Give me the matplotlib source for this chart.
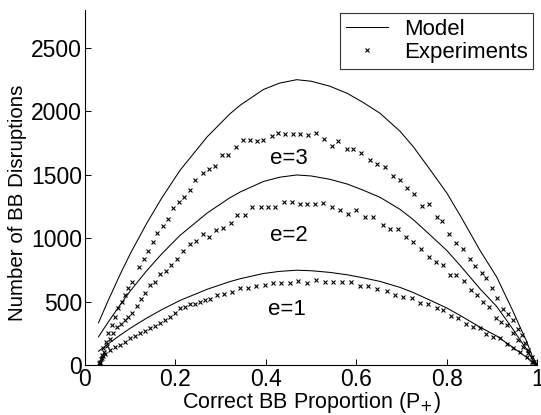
import matplotlib
matplotlib.use("Agg")
import matplotlib.pyplot as plt

# ---------------- data ----------------
model_x = [0.03, 0.05, 0.077, 0.1, 0.136, 0.17, 0.21, 0.27, 0.32, 0.343, 0.394,
           0.43, 0.468, 0.50, 0.541, 0.58, 0.615, 0.652, 0.696, 0.725, 0.762, 0.8,
           0.83, 0.873, 0.91, 0.946, 0.961, 0.975, 0.99, 1.0]
model_e1 = [112, 167, 237, 293, 372, 440, 512, 600, 660, 683, 724,
            741, 750, 746, 733, 714, 690, 662, 615, 575, 515, 452,
            392, 302, 232, 142, 102, 66, 20, 0]
model_e2 = [226, 334, 474, 586, 744, 880, 1024, 1200, 1320, 1366, 1448,
            1482, 1500, 1492, 1466, 1428, 1380, 1324, 1230, 1150, 1030, 904,
            784, 604, 464, 284, 204, 132, 40, 0]
model_e3 = [336, 501, 711, 879, 1116, 1320, 1536, 1800, 1980, 2049, 2172,
            2223, 2250, 2238, 2199, 2142, 2070, 1986, 1845, 1725, 1545, 1356,
            1176, 906, 696, 426, 306, 198, 60, 0]

exp3_x = [0.033, 0.037, 0.041, 0.046, 0.052, 0.059, 0.066, 0.074, 0.081, 0.088,
          0.096, 0.103, 0.12, 0.13, 0.14, 0.15, 0.16, 0.172, 0.183, 0.195,
          0.208, 0.22, 0.232, 0.244, 0.26, 0.274, 0.288, 0.302, 0.317, 0.333,
          0.35, 0.365, 0.38, 0.394, 0.413, 0.427, 0.442, 0.46, 0.475, 0.493,
          0.51, 0.528, 0.545, 0.56, 0.578, 0.593, 0.611, 0.63, 0.645, 0.663,
          0.68, 0.696, 0.712, 0.728, 0.744, 0.761, 0.777, 0.79, 0.805, 0.82,
          0.835, 0.85, 0.862, 0.877, 0.887, 0.9, 0.911, 0.923, 0.934, 0.945,
          0.958, 0.965, 0.972, 0.98, 0.987, 0.993]
exp3_y = [30, 83, 135, 187, 253, 318, 384, 450, 502, 554,
          607, 659, 777, 840, 902, 970, 1044, 1100, 1152, 1236,
          1285, 1330, 1380, 1458, 1519, 1550, 1568, 1655, 1655, 1720,
          1773, 1773, 1765, 1773, 1804, 1830, 1822, 1822, 1822, 1815,
          1833, 1786, 1728, 1767, 1707, 1707, 1673, 1616, 1590, 1563,
          1490, 1464, 1401, 1354, 1256, 1270, 1170, 1138, 1034, 966,
          921, 835, 782, 725, 686, 607, 528, 444, 402, 358,
          287, 240, 175, 122, 70, 25]

exp2_x = [0.033, 0.037, 0.042, 0.048, 0.055, 0.062, 0.07, 0.079, 0.088, 0.096,
          0.103, 0.114, 0.124, 0.133, 0.144, 0.155, 0.166, 0.179, 0.19, 0.204,
          0.217, 0.232, 0.245, 0.26, 0.274, 0.29, 0.305, 0.322, 0.337, 0.354,
          0.37, 0.388, 0.405, 0.42, 0.44, 0.457, 0.475, 0.49, 0.508, 0.527,
          0.545, 0.563, 0.582, 0.6, 0.619, 0.637, 0.658, 0.675, 0.692, 0.709,
          0.726, 0.742, 0.76, 0.776, 0.792, 0.807, 0.82, 0.838, 0.852, 0.867,
          0.879, 0.893, 0.908, 0.92, 0.932, 0.946, 0.958, 0.968, 0.979, 0.99]
exp2_y = [20, 60, 105, 150, 205, 255, 300, 330, 358, 385,
          410, 468, 520, 568, 633, 659, 719, 745, 790, 837,
          902, 955, 981, 1039, 1013, 1065, 1083, 1123, 1183, 1187,
          1248, 1248, 1248, 1248, 1288, 1285, 1270, 1270, 1272, 1277,
          1248, 1222, 1191, 1222, 1170, 1170, 1105, 1073, 1073, 1013,
          969, 921, 851, 816, 790, 711, 711, 667, 594, 554,
          502, 458, 371, 340, 318, 258, 200, 148, 96, 30]

exp1_x = [0.031, 0.035, 0.04, 0.044, 0.055, 0.066, 0.077, 0.088, 0.099, 0.11,
          0.122, 0.133, 0.144, 0.155, 0.166, 0.177, 0.188, 0.199, 0.21, 0.221,
          0.232, 0.243, 0.254, 0.265, 0.276, 0.291, 0.307, 0.324, 0.342, 0.361,
          0.379, 0.398, 0.416, 0.434, 0.453, 0.471, 0.49, 0.51, 0.53, 0.549,
          0.567, 0.589, 0.608, 0.626, 0.645, 0.667, 0.685, 0.703, 0.722, 0.74,
          0.759, 0.777, 0.792, 0.81, 0.825, 0.842, 0.858, 0.873, 0.887, 0.902,
          0.917, 0.932, 0.946, 0.961, 0.976, 0.987, 0.995]
exp1_y = [20, 50, 75, 90, 122, 148, 161, 187, 214, 232,
          253, 274, 292, 310, 332, 358, 379, 410, 450, 462,
          483, 483, 502, 515, 525, 554, 562, 580, 607, 607,
          625, 633, 651, 651, 651, 667, 651, 672, 659, 659,
          659, 659, 625, 625, 599, 586, 554, 541, 528, 494,
          483, 450, 436, 389, 371, 324, 300, 292, 248, 222,
          214, 167, 140, 108, 69, 30, 10]

curve_labels = ["e=1", "e=2", "e=3"]
label_x = [0.447, 0.450, 0.451]
label_y = [440, 1022, 1631]

x_ticks = [0, 0.2, 0.4, 0.6, 0.8, 1]
x_ticklabels = ["0", "0.2", "0.4", "0.6", "0.8", "1"]
y_ticks = [0, 500, 1000, 1500, 2000, 2500]

# ---------------- figure ----------------
plt.rcParams['font.family'] = ['Liberation Sans', 'DejaVu Sans']
fig = plt.figure(figsize=(5.41, 4.15), dpi=100)
ax = fig.add_axes([0.157, 0.1193, 0.8365, 0.857])

lw = 0.75
ms = 3.4
mew = 0.8
ax.plot(model_x, model_e3, color='black', lw=lw, label='Model')
ax.plot(model_x, model_e2, color='black', lw=lw)
ax.plot(model_x, model_e1, color='black', lw=lw)
ax.plot(exp3_x, exp3_y, ls='none', marker='x', ms=ms, mew=mew, color='black',
        label='Experiments')
ax.plot(exp2_x, exp2_y, ls='none', marker='x', ms=ms, mew=mew, color='black')
ax.plot(exp1_x, exp1_y, ls='none', marker='x', ms=ms, mew=mew, color='black')

for t, lx, ly in zip(curve_labels, label_x, label_y):
    ax.text(lx, ly, t, fontsize=16, ha='center', va='center')

ax.set_xlim(0, 1)
ax.set_ylim(0, 2800)
ax.set_xticks(x_ticks)
ax.set_xticklabels(x_ticklabels)
ax.set_yticks(y_ticks)
ax.tick_params(direction='in', length=4, width=0.7, labelsize=16.5, pad=2,
               top=False, right=False)
for s in ['top', 'right']:
    ax.spines[s].set_visible(False)
for s in ['left', 'bottom']:
    ax.spines[s].set_linewidth(0.8)

ax.set_xlabel('Correct BB Proportion (P$_{+}$)', fontsize=15.5)
ax.xaxis.set_label_coords(0.5, -0.068)
ax.set_ylabel('Number of BB Disruptions', fontsize=14.8)
ax.yaxis.set_label_coords(-0.128, 0.457)

leg = ax.legend(loc='upper right', bbox_to_anchor=(0.99, 0.99), fontsize=16,
                frameon=True, fancybox=False, edgecolor='black',
                handlelength=1.9, handletextpad=0.7, borderpad=0.25,
                labelspacing=0.1, borderaxespad=0)
leg.get_frame().set_linewidth(0.8)

fig.savefig('out.png', dpi=100)
